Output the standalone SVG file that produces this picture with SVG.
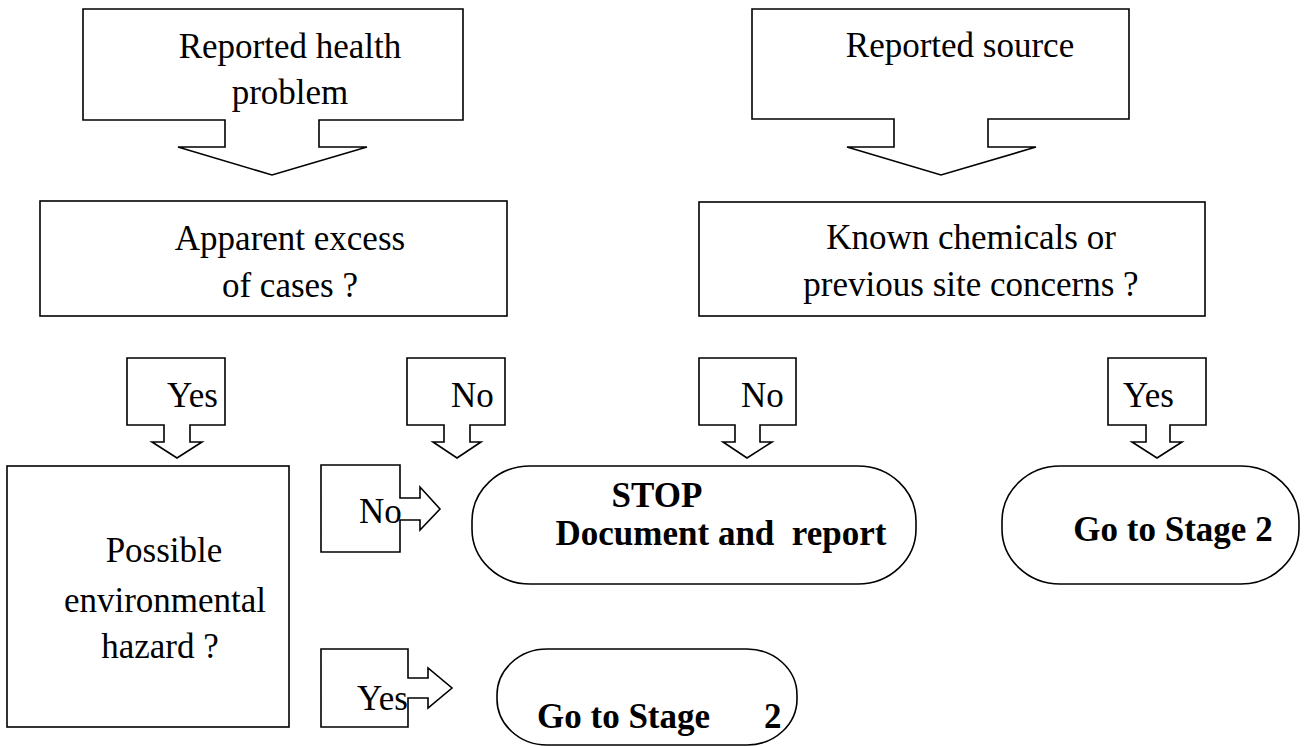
<svg xmlns="http://www.w3.org/2000/svg" width="1305" height="746" viewBox="0 0 1305 746">
<style>
.s{fill:#fff;stroke:#000;stroke-width:1.6;stroke-linejoin:miter}
.t{font-family:"Liberation Serif","Times New Roman",serif;font-size:35px;fill:#000}
.b{font-family:"Liberation Serif","Times New Roman",serif;font-size:35px;font-weight:bold;fill:#000}
.c{text-anchor:middle}
</style>
<rect width="1305" height="746" fill="#fff"/>
<g id="n-health">
<path class="s" d="M83,9 H463 V120 H319 V147 H367 L272,175 L178,147 H225 V120 H83 Z"/>
<text class="t c" x="290" y="58">Reported health</text>
<text class="t c" x="290" y="104">problem</text>
</g>
<g id="n-source">
<path class="s" d="M752,9 H1129 V119 H988 V147 H1036 L941,175 L847,147 H894 V119 H752 Z"/>
<text class="t c" x="960" y="57">Reported source</text>
</g>
<g id="n-excess">
<rect class="s" x="40" y="201" width="467" height="115"/>
<text class="t c" x="290" y="250">Apparent excess</text>
<text class="t c" x="290" y="297">of cases ?</text>
</g>
<g id="n-chem">
<rect class="s" x="699" y="202" width="506" height="114"/>
<text class="t c" x="971" y="249">Known chemicals or</text>
<text class="t c" x="971" y="296">previous site concerns ?</text>
</g>
<g id="n-hazard">
<rect class="s" x="7" y="466" width="282" height="261"/>
<text class="t c" x="164" y="562">Possible</text>
<text class="t c" x="165" y="612">environmental</text>
<text class="t c" x="160" y="658">hazard ?</text>
</g>
<g id="n-stop">
<rect class="s" x="472" y="466" width="444" height="118" rx="58" ry="55"/>
<text class="b c" x="657" y="507">STOP</text>
<text class="b c" x="721" y="545" xml:space="preserve">Document and  report</text>
</g>
<g id="n-stage2a">
<rect class="s" x="1002" y="466" width="297" height="118" rx="58" ry="55"/>
<text class="b c" x="1173" y="541">Go to Stage 2</text>
</g>
<g id="n-stage2b">
<rect class="s" x="497" y="649" width="300" height="96" rx="50" ry="46"/>
<text class="b" x="537" y="728" xml:space="preserve">Go to Stage   <tspan x="764">2</tspan></text>
</g>
<g id="connectors">
<path class="s" d="M127,358 H225 V425 H190 V442 H202 L177,458 L152,442 H164 V425 H127 Z"/>
<text class="t" x="167" y="407">Yes</text>
<path class="s" d="M407,358 H505 V425 H470 V442 H481 L457,458 L433,442 H444 V425 H407 Z"/>
<text class="t" x="451" y="407">No</text>
<path class="s" d="M699,358 H796 V425 H760 V442 H772 L747,458 L723,442 H735 V425 H699 Z"/>
<text class="t" x="741" y="407">No</text>
<path class="s" d="M1108,358 H1206 V425 H1170 V442 H1182 L1157,458 L1132,442 H1146 V425 H1108 Z"/>
<text class="t" x="1123" y="407">Yes</text>
<path class="s" d="M321,465 H400 V498 H420 V487 L440,509 L420,530 V520 H400 V552 H321 Z"/>
<text class="t" x="359" y="523">No</text>
<path class="s" d="M321,649 H408 V678 H428 V668 L452,688 L428,708 V698 H408 V727 H321 Z"/>
<text class="t" x="357" y="710">Yes</text>
</g>
</svg>
